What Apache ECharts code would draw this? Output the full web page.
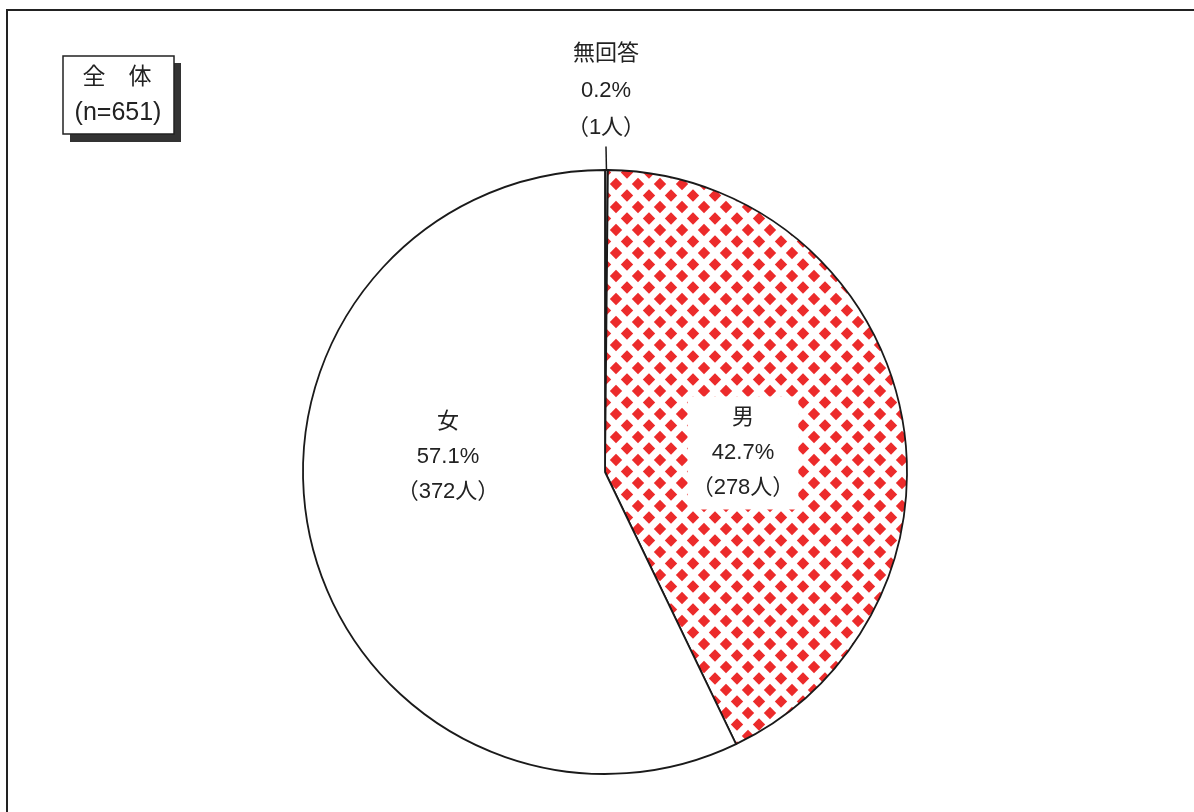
<!DOCTYPE html>
<html><head><meta charset="utf-8">
<script src="https://cdn.jsdelivr.net/npm/echarts@6/dist/echarts.min.js"></script>
<style>html,body{margin:0;padding:0;background:#fff}#c{width:1194px;height:812px}</style>
</head><body><div id="c"></div>
<script>
const categories = ['無回答', '男', '女'];
const counts = [1, 278, 372];
const percents = ['0.2', '42.7', '57.1'];
const sampleTitle = '全　体';
const sampleSize = '(n=651)';

const FONT = "'Liberation Sans', 'Noto Sans CJK JP', sans-serif";

function makePattern() {
  const w = 22, h = 23, r = 6.2;
  const c = document.createElement('canvas');
  c.width = w; c.height = h;
  const g = c.getContext('2d');
  g.fillStyle = '#fff';
  g.fillRect(0, 0, w, h);
  g.fillStyle = '#ec2b2b';
  const centers = [[w / 2, h / 2], [0, 0], [w, 0], [0, h], [w, h]];
  centers.forEach(([cx, cy]) => {
    g.beginPath();
    g.moveTo(cx, cy - r);
    g.lineTo(cx + r, cy);
    g.lineTo(cx, cy + r);
    g.lineTo(cx - r, cy);
    g.closePath();
    g.fill();
  });
  return c;
}

const fills = ['#7a7a7a', { image: makePattern(), repeat: 'repeat' }, '#ffffff'];
const labelPos = [[606, 91], [743, 453], [448, 457]];

const chart = echarts.init(document.getElementById('c'), null, { renderer: 'canvas' });
chart.setOption({
  animation: false,
  backgroundColor: '#fff',
  graphic: [
    { type: 'rect', shape: { x: 7, y: 10, width: 1220, height: 900 },
      style: { fill: 'none', stroke: '#222', lineWidth: 2 }, z: 0 },
    { type: 'rect', shape: { x: 70, y: 63, width: 111, height: 79 },
      style: { fill: '#333' }, z: 10 },
    { type: 'rect', shape: { x: 63, y: 56, width: 111, height: 78 },
      style: { fill: '#fff', stroke: '#222', lineWidth: 1.5 }, z: 11 },
    { type: 'text', x: 117, y: 78, z: 12,
      style: { text: sampleTitle, fontSize: 23, fontFamily: FONT, fill: '#222', align: 'center', verticalAlign: 'middle' } },
    { type: 'text', x: 118, y: 113, z: 12,
      style: { text: sampleSize, fontSize: 25, fontFamily: FONT, fill: '#222', align: 'center', verticalAlign: 'middle' } }
  ],
  series: [{
    type: 'pie',
    center: [605, 472],
    radius: [0, 302],
    startAngle: 90,
    clockwise: true,
    avoidLabelOverlap: false,
    itemStyle: { borderColor: '#1a1a1a', borderWidth: 1.8 },
    emphasis: { disabled: true },
    label: {
      show: true,
      formatter: p => categories[p.dataIndex] + '\n' + percents[p.dataIndex] + '%\n（' + counts[p.dataIndex] + '人）',
      fontSize: 22,
      lineHeight: 35,
      fontFamily: FONT,
      color: '#222',
      align: 'center'
    },
    labelLine: { show: false },
    labelLayout: function (p) {
      const pos = labelPos[p.dataIndex];
      return { x: pos[0], y: pos[1], align: 'center', verticalAlign: 'middle' };
    },
    data: categories.map((name, i) => {
      const d = { name: name, value: counts[i], itemStyle: { color: fills[i] } };
      if (i === 0) {
        d.label = { position: 'outside', lineHeight: 37 };
        d.labelLine = { show: true, length: 26, length2: 0, smooth: false, lineStyle: { color: '#1a1a1a', width: 1.5 } };
      } else {
        d.label = { position: 'inside' };
      }
      if (i === 1) {
        d.label.backgroundColor = '#fff';
        d.label.padding = [4, 4, 4, 4];
      }
      return d;
    })
  }]
});
</script>
</body></html>
